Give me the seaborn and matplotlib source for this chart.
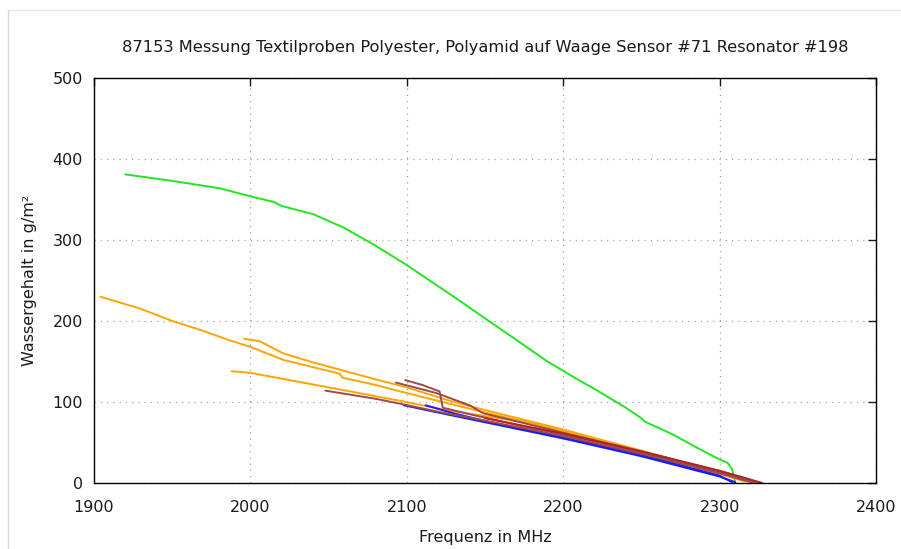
import matplotlib
matplotlib.use("Agg")
import matplotlib.pyplot as plt
from matplotlib.lines import Line2D
import numpy as np
import pandas as pd
import seaborn as sns

# Measured curves: resonance frequency (MHz) vs. water content (g/m²)
green_f = [1920, 1950, 1980, 2000, 2015, 2020, 2040, 2060, 2080, 2100, 2130, 2160,
           2190, 2210, 2221, 2240, 2250, 2252, 2270, 2288, 2298, 2305, 2308, 2310]
green_w = [381, 373, 364, 354, 347, 342, 332, 315, 293, 269, 230, 190,
           150, 127, 115, 93, 80, 76, 60, 41, 31, 25, 17, 1]

orange1_f = [1904, 1930, 1950, 1968, 1987, 2000, 2021, 2040, 2057, 2059, 2080, 2098,
             2125, 2150, 2179, 2200, 2250, 2300, 2315]
orange1_w = [230, 215, 200, 189, 176, 168, 152, 143, 135, 130, 121, 112,
             99, 87, 74, 64, 38, 11, 3]

orange2_f = [1996, 2006, 2021, 2040, 2057, 2080, 2100, 2125, 2150, 2200, 2250, 2300, 2318]
orange2_w = [178, 175, 160, 149, 140, 128, 118, 103, 90, 66, 40, 13, 2]

orange3_f = [1988, 2000, 2053, 2097, 2125, 2179, 2200, 2250, 2300, 2316]
orange3_w = [138, 136, 117, 101, 90, 74, 63, 38, 12, 2]

blue1_f = [2098, 2120, 2150, 2200, 2250, 2300, 2310]
blue1_w = [96, 87, 75, 55, 33, 8, 1]

blue2_f = [2112, 2130, 2160, 2200, 2250, 2300, 2308]
blue2_w = [96, 86, 72, 56, 35, 9, 1]

brown1_f = [2048, 2080, 2098, 2120, 2150, 2200, 2250, 2300, 2322]
brown1_w = [114, 104, 97, 88, 77, 58, 36, 12, 0]

brown2_f = [2099, 2110, 2121, 2123, 2140, 2179, 2200, 2250, 2300, 2326]
brown2_w = [127, 121, 113, 93, 85, 68, 60, 38, 14, 0]

brown3_f = [2093, 2119, 2140, 2149, 2179, 2200, 2250, 2300, 2327]
brown3_w = [124, 111, 96, 86, 72, 62, 39, 15, 0]

red_f = [2150, 2200, 2250, 2300, 2327]
red_w = [80, 61, 39, 15, 0]

series = [
    ("green", green_f, green_w, "#22e622"),
    ("orange1", orange1_f, orange1_w, "#ffa500"),
    ("orange2", orange2_f, orange2_w, "#ffa500"),
    ("orange3", orange3_f, orange3_w, "#ffa500"),
    ("blue1", blue1_f, blue1_w, "#1a1aff"),
    ("blue2", blue2_f, blue2_w, "#1a1aff"),
    ("brown1", brown1_f, brown1_w, "#9c4a4a"),
    ("brown2", brown2_f, brown2_w, "#9c4a4a"),
    ("brown3", brown3_f, brown3_w, "#9c4a4a"),
    ("red", red_f, red_w, "#b22222"),
]

frames = []
for name, f, w, _ in series:
    frames.append(pd.DataFrame({"f": f, "w": w, "probe": name}))
df = pd.concat(frames, ignore_index=True)
palette = {name: c for name, _, _, c in series}

sns.set_style("white")
plt.rcParams["font.family"] = ["DejaVu Sans"]

fig = plt.figure(figsize=(9.01, 5.49), dpi=100)
ax = fig.add_axes([94 / 901, 1 - 483 / 549, (876 - 94) / 901, (483 - 78) / 549])

sns.lineplot(data=df, x="f", y="w", hue="probe", palette=palette, sort=False,
             estimator=None, linewidth=1.4, legend=False, ax=ax)

ax.set_xlim(1900, 2400)
ax.set_ylim(0, 500)
ax.set_xticks([1900, 2000, 2100, 2200, 2300, 2400])
ax.set_yticks([0, 100, 200, 300, 400, 500])
ax.grid(True, linestyle=(0, (1, 4)), color="#a0a0a0", linewidth=0.9)
for s in ax.spines.values():
    s.set_color("black")
    s.set_linewidth(1.0)
ax.tick_params(direction="in", length=6, width=1, top=True, right=True,
               labelsize=11.5, colors="#1a1a1a")
ax.tick_params(axis="x", pad=12)
ax.tick_params(axis="y", pad=8)

ax.set_xlabel("Frequenz in MHz", fontsize=11.5, labelpad=11, color="#1a1a1a")
ax.set_ylabel("Wassergehalt in g/m²", fontsize=11.5, labelpad=11, color="#1a1a1a")
ax.set_title("87153 Messung Textilproben Polyester, Polyamid auf Waage Sensor #71 Resonator #198",
             fontsize=11.7, pad=19, color="#1a1a1a")

# thin window frame around the plot
fig.add_artist(Line2D([8 / 901, 8 / 901], [0, 1 - 10 / 549], color="#d8d8d8", lw=1))
fig.add_artist(Line2D([8 / 901, 1], [1 - 10 / 549, 1 - 10 / 549], color="#e4e4e4", lw=1))

fig.savefig("out.png", dpi=100)
